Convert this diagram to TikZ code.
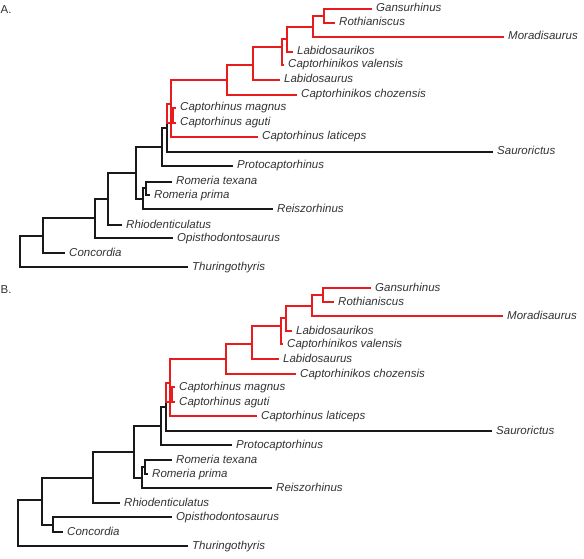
\documentclass[tikz,border=0pt]{standalone}
\usepackage{fontspec}
\setmainfont{Liberation Sans}
\definecolor{clade}{RGB}{232,28,28}
\definecolor{stem}{RGB}{25,25,25}
\definecolor{taxtext}{RGB}{50,50,50}

\begin{document}
\begin{tikzpicture}[x=1pt,y=-1pt,
  every node/.style={font=\fontsize{11.5}{13}\selectfont,text=taxtext},
  taxon/.style={anchor=west,inner xsep=4pt,inner ysep=0pt,text height=8.5pt,text depth=2.5pt,
    font=\fontsize{11.5}{13}\selectfont\itshape},
  br/.style={line width=1.4pt,draw=stem},
  redbr/.style={line width=1.4pt,draw=clade}]
  \useasboundingbox (0,0) rectangle (584,559);
  \node[anchor=west,inner sep=0pt] (lblA) at (0.5,10) {A.};
  \node[anchor=west,inner sep=0pt] (lblB) at (0.5,290) {B.};

  % part shared by both trees
  \foreach \p/\dx/\dy in {a/0/0,b/-1/279}{
    \begin{scope}[shift={(\dx,\dy)}]
      \node[taxon] (\p-gans) at (372,9) {Gansurhinus};
      \node[taxon] (\p-roth) at (335,23) {Rothianiscus};
      \node[taxon] (\p-mora) at (504,37) {Moradisaurus};
      \node[taxon] (\p-lbk) at (293,52) {Labidosaurikos};
      \node[taxon] (\p-cval) at (284,65) {Captorhinikos valensis};
      \node[taxon] (\p-lbs) at (280,80) {Labidosaurus};
      \node[taxon] (\p-ccho) at (297,95) {Captorhinikos chozensis};
      \node[taxon] (\p-cmag) at (176,108) {Captorhinus magnus};
      \node[taxon] (\p-cagu) at (176,123) {Captorhinus aguti};
      \node[taxon] (\p-clat) at (258,137) {Captorhinus laticeps};
      \node[taxon] (\p-saur) at (493,152) {Saurorictus};
      \node[taxon] (\p-proto) at (233,166) {Protocaptorhinus};
      \coordinate (\p-x1) at (324,16);
      \coordinate (\p-x2) at (313,27);
      \coordinate (\p-x3) at (287,39);
      \coordinate (\p-x4) at (282,47);
      \coordinate (\p-x5) at (253,65);
      \coordinate (\p-x6) at (227,80);
      \coordinate (\p-x7) at (171,104);
      \coordinate (\p-cm) at (173,123);
      \coordinate (\p-rt) at (167,113);
      \coordinate (\p-n2) at (167,128);
      \coordinate (\p-n1) at (162,147);
      % black stem
      \draw[br] (\p-n1) |- (\p-n2);
      \draw[br] (\p-n1) |- (\p-proto.west);
      \draw[br] (\p-n2) |- (\p-rt);
      \draw[br] (\p-n2) |- (\p-saur.west);
      % captorhinid clade
      \draw[redbr] (\p-rt) |- (\p-x7);
      \draw[redbr] (\p-rt) |- (\p-cm);
      \draw[redbr] (\p-cm) |- (\p-cmag.west);
      \draw[redbr] (\p-cm) |- (\p-cagu.west);
      \draw[redbr] (\p-x7) |- (\p-x6);
      \draw[redbr] (\p-x7) |- (\p-clat.west);
      \draw[redbr] (\p-x6) |- (\p-x5);
      \draw[redbr] (\p-x6) |- (\p-ccho.west);
      \draw[redbr] (\p-x5) |- (\p-x4);
      \draw[redbr] (\p-x5) |- (\p-lbs.west);
      \draw[redbr] (\p-x4) |- (\p-x3);
      \draw[redbr] (\p-x4) |- (\p-cval.west);
      \draw[redbr] (\p-x3) |- (\p-x2);
      \draw[redbr] (\p-x3) |- (\p-lbk.west);
      \draw[redbr] (\p-x2) |- (\p-x1);
      \draw[redbr] (\p-x2) |- (\p-mora.west);
      \draw[redbr] (\p-x1) |- (\p-gans.west);
      \draw[redbr] (\p-x1) |- (\p-roth.west);
    \end{scope}
  }

  % tree A, basal part
  \node[taxon] (a-rtex) at (172,182) {Romeria texana};
  \node[taxon] (a-rpri) at (150,195) {Romeria prima};
  \node[taxon] (a-reis) at (273,209) {Reiszorhinus};
  \node[taxon] (a-rhio) at (122,225) {Rhiodenticulatus};
  \node[taxon] (a-opis) at (173,238) {Opisthodontosaurus};
  \node[taxon] (a-conc) at (65,253) {Concordia};
  \node[taxon] (a-thur) at (188,267) {Thuringothyris};
  \coordinate (a-rm) at (146,188);
  \coordinate (a-rr) at (143,199);
  \coordinate (a-n3) at (136,173);
  \coordinate (a-n4) at (108,199);
  \coordinate (a-n5) at (95,218);
  \coordinate (a-n6) at (43,236);
  \coordinate (a-root) at (20,250);
  \draw[br] (a-rm) |- (a-rtex.west);
  \draw[br] (a-rm) |- (a-rpri.west);
  \draw[br] (a-rr) |- (a-rm);
  \draw[br] (a-rr) |- (a-reis.west);
  \draw[br] (a-n3) |- (a-n1);
  \draw[br] (a-n3) |- (a-rr);
  \draw[br] (a-n4) |- (a-n3);
  \draw[br] (a-n4) |- (a-rhio.west);
  \draw[br] (a-n5) |- (a-n4);
  \draw[br] (a-n5) |- (a-opis.west);
  \draw[br] (a-n6) |- (a-n5);
  \draw[br] (a-n6) |- (a-conc.west);
  \draw[br] (a-root) |- (a-n6);
  \draw[br] (a-root) |- (a-thur.west);

  % tree B, basal part
  \node[taxon] (b-rtex) at (172,460) {Romeria texana};
  \node[taxon] (b-rpri) at (148,474) {Romeria prima};
  \node[taxon] (b-reis) at (272,488) {Reiszorhinus};
  \node[taxon] (b-rhio) at (120,503) {Rhiodenticulatus};
  \node[taxon] (b-opis) at (172,517) {Opisthodontosaurus};
  \node[taxon] (b-conc) at (63,532) {Concordia};
  \node[taxon] (b-thur) at (188,546) {Thuringothyris};
  \coordinate (b-rm) at (145,467);
  \coordinate (b-rr) at (142,478);
  \coordinate (b-n3) at (134,452);
  \coordinate (b-n4) at (93,478);
  \coordinate (b-oc) at (53,525);
  \coordinate (b-n5) at (42,500);
  \coordinate (b-root) at (18,520);
  \draw[br] (b-rm) |- (b-rtex.west);
  \draw[br] (b-rm) |- (b-rpri.west);
  \draw[br] (b-rr) |- (b-rm);
  \draw[br] (b-rr) |- (b-reis.west);
  \draw[br] (b-n3) |- (b-n1);
  \draw[br] (b-n3) |- (b-rr);
  \draw[br] (b-n4) |- (b-n3);
  \draw[br] (b-n4) |- (b-rhio.west);
  \draw[br] (b-oc) |- (b-opis.west);
  \draw[br] (b-oc) |- (b-conc.west);
  \draw[br] (b-n5) |- (b-n4);
  \draw[br] (b-n5) |- (b-oc);
  \draw[br] (b-root) |- (b-n5);
  \draw[br] (b-root) |- (b-thur.west);
\end{tikzpicture}
\end{document}
